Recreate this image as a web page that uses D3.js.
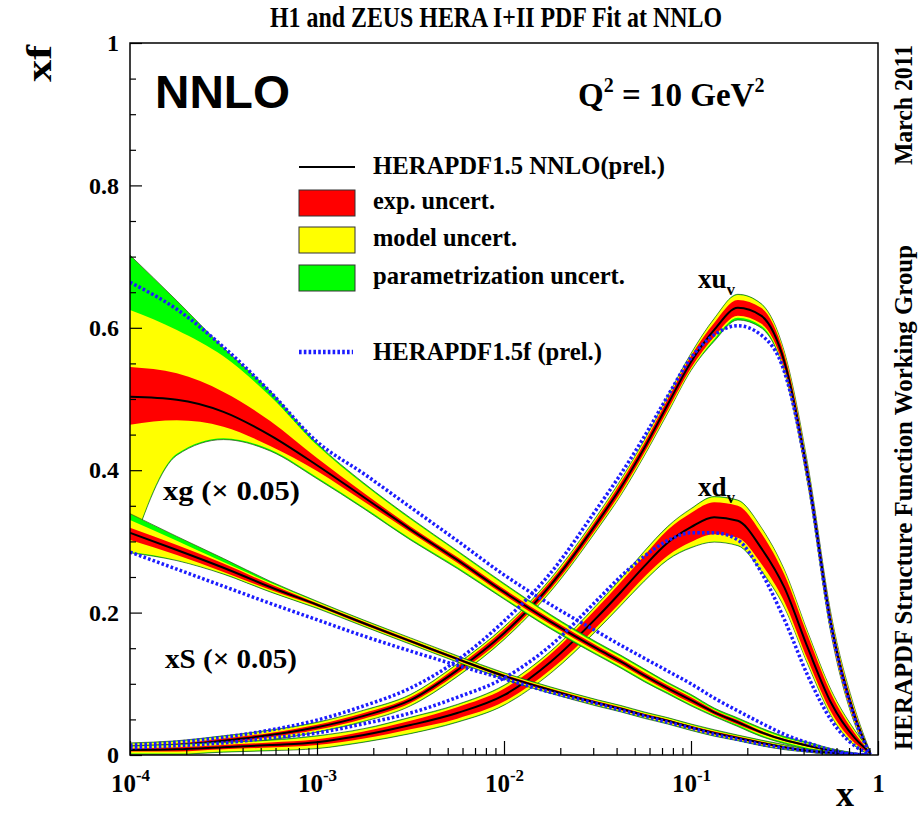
<!DOCTYPE html>
<html>
<head>
<meta charset="utf-8">
<script src="https://cdnjs.cloudflare.com/ajax/libs/d3/7.8.5/d3.min.js"></script>
<style>
  body { margin: 0; background: #fff; }
  svg text { font-family: "Liberation Serif", "Times New Roman", serif; font-weight: bold; fill: #000; }
</style>
</head>
<body>
<div id="chart"></div>
<script>
// x grid shared by all curves
const xGrid = [1e-4, 1.78e-4, 3.16e-4, 5.62e-4, 1e-3, 1.78e-3, 3.16e-3, 5.62e-3, 0.01, 0.0178, 0.0316,
  0.0422, 0.0562, 0.075, 0.1, 0.133, 0.178, 0.237, 0.316, 0.422, 0.562, 0.75, 0.91];

// xg (x 0.05)
const xgCentral = [0.503,0.499,0.482,0.449,0.407,0.362,0.317,0.274,0.229,0.187,0.149,0.131,0.112,0.094,0.077,0.060,0.046,0.032,0.021,0.013,0.006,0.001,0];
const xgExpUp = [0.042,0.037,0.028,0.020,0.010,0.006,0.004,0.004,0.004,0.004,0.004,0.004,0.004,0.004,0.004,0.003,0.003,0.002,0.0014,0.0014,0.0007,0.0004,0];
const xgExpDn = [0.039,0.029,0.021,0.015,0.008,0.006,0.004,0.004,0.004,0.004,0.004,0.004,0.004,0.004,0.004,0.003,0.003,0.002,0.0014,0.0014,0.0007,0.0004,0];
const xgModUp = [0.122,0.098,0.078,0.055,0.028,0.018,0.014,0.011,0.010,0.008,0.007,0.007,0.007,0.006,0.006,0.004,0.004,0.004,0.003,0.003,0.0014,0.0007,0];
const xgModDn = [0.218,0.076,0.037,0.020,0.017,0.014,0.013,0.010,0.008,0.008,0.007,0.007,0.007,0.006,0.006,0.004,0.004,0.004,0.003,0.003,0.0014,0.0007,0];
const xgTotUp = [0.199,0.139,0.090,0.062,0.031,0.020,0.016,0.013,0.012,0.010,0.009,0.009,0.009,0.008,0.008,0.006,0.006,0.006,0.005,0.005,0.003,0.002,0];
const xgTotDn = [0.220,0.078,0.039,0.022,0.019,0.016,0.015,0.012,0.010,0.010,0.009,0.009,0.009,0.008,0.008,0.006,0.006,0.006,0.005,0.005,0.003,0.002,0];
const xgF = [0.664,0.626,0.573,0.510,0.440,0.395,0.348,0.301,0.253,0.211,0.173,0.154,0.136,0.118,0.100,0.080,0.062,0.045,0.029,0.017,0.007,0.001,0];

// xS (x 0.05)
const xsCentral = [0.312,0.288,0.263,0.236,0.211,0.185,0.160,0.135,0.111,0.091,0.073,0.065,0.056,0.048,0.039,0.031,0.024,0.017,0.011,0.006,0.003,0.001,0];
const xsExpUp = [0.007,0.007,0.006,0.004,0.002,0.002,0.002,0.002,0.002,0.002,0.002,0.002,0.002,0.002,0.002,0.002,0.002,0.002,0.0014,0.001,0.001,0,0];
const xsExpDn = [0.010,0.007,0.006,0.004,0.002,0.002,0.002,0.002,0.002,0.002,0.002,0.002,0.002,0.002,0.002,0.002,0.002,0.002,0.0014,0.001,0.001,0,0];
const xsModUp = [0.018,0.013,0.008,0.006,0.004,0.0035,0.0035,0.0035,0.0035,0.0035,0.0035,0.0035,0.0035,0.0035,0.0035,0.0035,0.003,0.003,0.0025,0.0014,0.0014,0,0];
const xsModDn = [0.027,0.014,0.008,0.006,0.004,0.0035,0.0035,0.0035,0.0035,0.0035,0.0035,0.0035,0.0035,0.0035,0.0035,0.0035,0.003,0.003,0.0025,0.0014,0.0014,0,0];
const xsTotUp = [0.027,0.019,0.013,0.008,0.005,0.0045,0.0045,0.0045,0.0045,0.0045,0.0045,0.0045,0.0045,0.0045,0.0045,0.0045,0.004,0.004,0.0035,0.002,0.002,0,0];
const xsTotDn = [0.028,0.015,0.009,0.007,0.005,0.0045,0.0045,0.0045,0.0045,0.0045,0.0045,0.0045,0.0045,0.0045,0.0045,0.0045,0.004,0.004,0.0035,0.002,0.002,0,0];
const xsF = [0.285,0.261,0.237,0.213,0.190,0.167,0.146,0.126,0.107,0.088,0.072,0.063,0.055,0.046,0.038,0.029,0.022,0.015,0.010,0.006,0.003,0.001,0];

// xu_v
const xuvCentral = [0.011,0.014,0.020,0.028,0.039,0.055,0.077,0.119,0.171,0.239,0.327,0.376,0.431,0.492,0.552,0.597,0.628,0.617,0.552,0.393,0.183,0.055,0.001];
const xuvExpUp = [0.002,0.002,0.003,0.003,0.0035,0.004,0.004,0.005,0.0056,0.0056,0.0063,0.007,0.007,0.0077,0.0084,0.0098,0.011,0.011,0.0098,0.0098,0.0098,0.007,0.0014];
const xuvExpDn = [0.002,0.002,0.003,0.003,0.0035,0.004,0.004,0.005,0.0056,0.0056,0.0063,0.007,0.007,0.0077,0.0084,0.0098,0.011,0.011,0.0098,0.0098,0.0098,0.007,0.0014];
const xuvModUp = [0.005,0.005,0.006,0.006,0.006,0.007,0.007,0.008,0.008,0.008,0.009,0.010,0.010,0.011,0.011,0.015,0.018,0.016,0.013,0.013,0.013,0.010,0.002];
const xuvModDn = [0.005,0.005,0.006,0.006,0.006,0.007,0.007,0.008,0.008,0.008,0.009,0.010,0.010,0.011,0.011,0.013,0.014,0.014,0.013,0.013,0.013,0.010,0.002];
const xuvTotUp = [0.006,0.006,0.007,0.007,0.007,0.008,0.008,0.009,0.009,0.009,0.010,0.011,0.011,0.012,0.012,0.016,0.019,0.017,0.014,0.014,0.014,0.011,0.003];
const xuvTotDn = [0.006,0.006,0.007,0.007,0.007,0.008,0.008,0.009,0.009,0.009,0.010,0.011,0.011,0.012,0.012,0.016,0.017,0.017,0.014,0.014,0.014,0.011,0.003];
const xuvF = [0.014,0.018,0.025,0.035,0.049,0.069,0.094,0.133,0.188,0.256,0.347,0.395,0.447,0.504,0.558,0.590,0.603,0.590,0.538,0.390,0.180,0.052,0.001];

// xd_v
const xdvCentral = [0.007,0.008,0.011,0.014,0.018,0.028,0.042,0.059,0.084,0.131,0.194,0.229,0.265,0.298,0.320,0.334,0.329,0.291,0.235,0.150,0.073,0.024,0.003];
const xdvExpUp = [0.002,0.003,0.003,0.0035,0.004,0.005,0.006,0.008,0.009,0.011,0.013,0.014,0.015,0.018,0.020,0.021,0.021,0.021,0.018,0.017,0.013,0.007,0.0014];
const xdvExpDn = [0.002,0.003,0.003,0.0035,0.004,0.005,0.006,0.008,0.009,0.011,0.013,0.014,0.015,0.018,0.021,0.024,0.024,0.022,0.020,0.017,0.013,0.007,0.0014];
const xdvModUp = [0.005,0.006,0.006,0.006,0.008,0.008,0.010,0.011,0.013,0.014,0.017,0.018,0.020,0.022,0.025,0.028,0.028,0.028,0.024,0.021,0.017,0.010,0.002];
const xdvModDn = [0.005,0.006,0.006,0.007,0.008,0.009,0.011,0.012,0.013,0.015,0.017,0.018,0.020,0.023,0.028,0.034,0.034,0.031,0.027,0.022,0.017,0.010,0.002];
const xdvTotUp = [0.006,0.007,0.007,0.007,0.009,0.009,0.011,0.012,0.014,0.015,0.018,0.019,0.021,0.023,0.026,0.029,0.029,0.029,0.025,0.022,0.018,0.011,0.003];
const xdvTotDn = [0.006,0.007,0.007,0.008,0.009,0.010,0.012,0.013,0.014,0.016,0.018,0.019,0.021,0.024,0.029,0.035,0.035,0.032,0.028,0.023,0.018,0.011,0.003];
const xdvF = [0.010,0.013,0.017,0.024,0.031,0.044,0.059,0.081,0.108,0.154,0.218,0.251,0.279,0.301,0.312,0.312,0.302,0.257,0.190,0.111,0.049,0.013,0.001];

// ticks
const xMajorTicks = [1e-4, 1e-3, 1e-2, 1e-1, 1];
const xTickExp = ["-4", "-3", "-2", "-1", ""];
const yMajorTicks = [0, 0.2, 0.4, 0.6, 0.8, 1];
const yMinorTicks = [0.05,0.1,0.15,0.25,0.3,0.35,0.45,0.5,0.55,0.65,0.7,0.75,0.85,0.9,0.95];

const legendItems = ["exp. uncert.", "model uncert.", "parametrization uncert."];
const colors = { exp: "#ff0000", mod: "#ffff00", tot: "#00ff00", f: "#1c1cff" };

// dimensions
const width = 922, height = 821;
const plot = { left: 130, right: 878, top: 43, bottom: 755 };

const svg = d3.select("#chart").append("svg")
  .attr("width", width)
  .attr("height", height);

const x = d3.scaleLog().domain([1e-4, 1]).range([plot.left, plot.right]);
const y = d3.scaleLinear().domain([0, 1]).range([plot.bottom, plot.top]);

svg.append("clipPath").attr("id", "clip")
  .append("rect")
  .attr("x", plot.left).attr("y", plot.top)
  .attr("width", plot.right - plot.left).attr("height", plot.bottom - plot.top);

const idx = d3.range(xGrid.length);
const band = (c, up, dn) => d3.area()
  .x(i => x(xGrid[i]))
  .y0(i => y(c[i] - dn[i]))
  .y1(i => y(c[i] + up[i]))
  .curve(d3.curveMonotoneX)(idx);
const curve = vals => d3.line()
  .x(i => x(xGrid[i]))
  .y(i => y(vals[i]))
  .curve(d3.curveMonotoneX)(idx);

// valence first, then gluon and sea on top
const pdfs = [
  { c: xuvCentral, eu: xuvExpUp, ed: xuvExpDn, mu: xuvModUp, md: xuvModDn, tu: xuvTotUp, td: xuvTotDn, f: xuvF },
  { c: xdvCentral, eu: xdvExpUp, ed: xdvExpDn, mu: xdvModUp, md: xdvModDn, tu: xdvTotUp, td: xdvTotDn, f: xdvF },
  { c: xgCentral, eu: xgExpUp, ed: xgExpDn, mu: xgModUp, md: xgModDn, tu: xgTotUp, td: xgTotDn, f: xgF },
  { c: xsCentral, eu: xsExpUp, ed: xsExpDn, mu: xsModUp, md: xsModDn, tu: xsTotUp, td: xsTotDn, f: xsF }
];

const g = svg.append("g").attr("clip-path", "url(#clip)");

pdfs.forEach(p => {
  g.append("path").attr("d", band(p.c, p.tu, p.td))
    .attr("fill", colors.tot).attr("stroke", "#2b4a10").attr("stroke-width", 0.7);
  g.append("path").attr("d", band(p.c, p.mu, p.md)).attr("fill", colors.mod);
  g.append("path").attr("d", band(p.c, p.eu, p.ed)).attr("fill", colors.exp);
  g.append("path").attr("d", curve(p.c))
    .attr("fill", "none").attr("stroke", "#000").attr("stroke-width", 2);
});

// HERAPDF1.5f dotted curves on top
pdfs.forEach(p => {
  g.append("path").attr("d", curve(p.f))
    .attr("fill", "none").attr("stroke", colors.f)
    .attr("stroke-width", 3.5).attr("stroke-dasharray", "2.6,2.2");
});

// axes
const yAxis = svg.append("g")
  .attr("transform", `translate(${plot.left},0)`)
  .call(d3.axisLeft(y).tickValues(yMajorTicks).tickSize(-12).tickSizeOuter(0)
    .tickPadding(11).tickFormat(d3.format("~g")));
yAxis.selectAll("text").style("font-size", "24px");
svg.append("g")
  .attr("transform", `translate(${plot.left},0)`)
  .call(d3.axisLeft(y).tickValues(yMinorTicks).tickSize(-6).tickSizeOuter(0).tickFormat(""));

const xMinorTicks = [];
[1e-4, 1e-3, 1e-2, 1e-1].forEach(d => [2, 3, 4, 5, 6, 7, 8, 9].forEach(m => xMinorTicks.push(m * d)));

const xAxis = svg.append("g")
  .attr("transform", `translate(0,${plot.bottom})`)
  .call(d3.axisBottom(x).tickValues(xMajorTicks).tickSize(-14).tickSizeOuter(0).tickFormat(() => ""));
svg.append("g")
  .attr("transform", `translate(0,${plot.bottom})`)
  .call(d3.axisBottom(x).tickValues(xMinorTicks).tickSize(-7).tickSizeOuter(0).tickFormat(""));

xAxis.selectAll(".tick text").remove();
xAxis.selectAll(".tick").each(function(d, i) {
  const t = d3.select(this).append("text")
    .attr("y", 37).attr("text-anchor", "middle")
    .style("font-size", "25px").attr("fill", "#000");
  if (xTickExp[i] === "") {
    t.text("1");
  } else {
    t.append("tspan").text("10");
    t.append("tspan").attr("dy", -11).style("font-size", "17px").text(xTickExp[i]);
  }
});
svg.selectAll(".domain").remove();
svg.selectAll(".tick line").attr("stroke", "#000").attr("stroke-width", 1.2);

// frame
svg.append("rect")
  .attr("x", plot.left).attr("y", plot.top)
  .attr("width", plot.right - plot.left).attr("height", plot.bottom - plot.top)
  .attr("fill", "none").attr("stroke", "#000").attr("stroke-width", 1.5);

// titles and axis labels
svg.append("text").attr("x", 496).attr("y", 27).attr("text-anchor", "middle")
  .style("font-size", "30px").attr("textLength", 452).attr("lengthAdjust", "spacingAndGlyphs")
  .text("H1 and ZEUS HERA I+II PDF Fit at NNLO");
svg.append("text").attr("transform", "translate(51,82) rotate(-90)")
  .style("font-size", "36px").attr("textLength", 37).attr("lengthAdjust", "spacingAndGlyphs")
  .text("xf");
svg.append("text").attr("x", 845).attr("y", 806).attr("text-anchor", "middle")
  .style("font-size", "36px").text("x");

svg.append("text").attr("x", 155).attr("y", 108)
  .style("font-family", "'Liberation Sans', Arial, sans-serif").style("font-size", "47px")
  .attr("textLength", 135).attr("lengthAdjust", "spacingAndGlyphs")
  .text("NNLO");

const q = svg.append("text").attr("x", 578).attr("y", 106).style("font-size", "33px");
q.append("tspan").text("Q");
q.append("tspan").attr("dy", -14).style("font-size", "20px").text("2");
q.append("tspan").attr("dy", 14).text(" = 10 GeV");
q.append("tspan").attr("dy", -14).style("font-size", "20px").text("2");

// side notes
svg.append("text").attr("transform", "translate(912,750) rotate(-90)")
  .style("font-size", "25px").attr("textLength", 505).attr("lengthAdjust", "spacingAndGlyphs")
  .text("HERAPDF Structure Function Working Group");
svg.append("text").attr("transform", "translate(912,165) rotate(-90)")
  .style("font-size", "25px").attr("textLength", 120).attr("lengthAdjust", "spacingAndGlyphs")
  .text("March 2011");

// curve labels
svg.append("text").attr("x", 163).attr("y", 500).style("font-size", "27px")
  .attr("textLength", 137).attr("lengthAdjust", "spacingAndGlyphs").text("xg (\u00d7 0.05)");
svg.append("text").attr("x", 165).attr("y", 668).style("font-size", "27px")
  .attr("textLength", 132).attr("lengthAdjust", "spacingAndGlyphs").text("xS (\u00d7 0.05)");
const lu = svg.append("text").attr("x", 698).attr("y", 288).style("font-size", "27px");
lu.append("tspan").text("xu");
lu.append("tspan").attr("dy", 7).style("font-size", "17px").text("v");
const ld = svg.append("text").attr("x", 698).attr("y", 496).style("font-size", "27px");
ld.append("tspan").text("xd");
ld.append("tspan").attr("dy", 7).style("font-size", "17px").text("v");

// legend
const leg = svg.append("g");
leg.append("line").attr("x1", 299).attr("x2", 355).attr("y1", 167).attr("y2", 167)
  .attr("stroke", "#000").attr("stroke-width", 2);
leg.append("text").attr("x", 373).attr("y", 174).style("font-size", "25px")
  .attr("textLength", 292).attr("lengthAdjust", "spacingAndGlyphs").text("HERAPDF1.5 NNLO(prel.)");

const boxY = [190, 227, 265];
const boxColors = [colors.exp, colors.mod, colors.tot];
const textLen = [122, 144, 252];
leg.selectAll(".box").data(legendItems).enter().append("rect")
  .attr("x", 299).attr("y", (d, i) => boxY[i]).attr("width", 56).attr("height", 26)
  .attr("fill", (d, i) => boxColors[i]).attr("stroke", "#333").attr("stroke-width", 1);
leg.selectAll(".lab").data(legendItems).enter().append("text")
  .attr("x", 373).attr("y", (d, i) => boxY[i] + 19).style("font-size", "25px")
  .attr("textLength", (d, i) => textLen[i]).attr("lengthAdjust", "spacingAndGlyphs")
  .text(d => d);

leg.append("line").attr("x1", 299).attr("x2", 353).attr("y1", 352).attr("y2", 352)
  .attr("stroke", colors.f).attr("stroke-width", 4.5).attr("stroke-dasharray", "2.6,2.2");
leg.append("text").attr("x", 373).attr("y", 360).style("font-size", "25px")
  .attr("textLength", 229).attr("lengthAdjust", "spacingAndGlyphs").text("HERAPDF1.5f (prel.)");
</script>
</body>
</html>
